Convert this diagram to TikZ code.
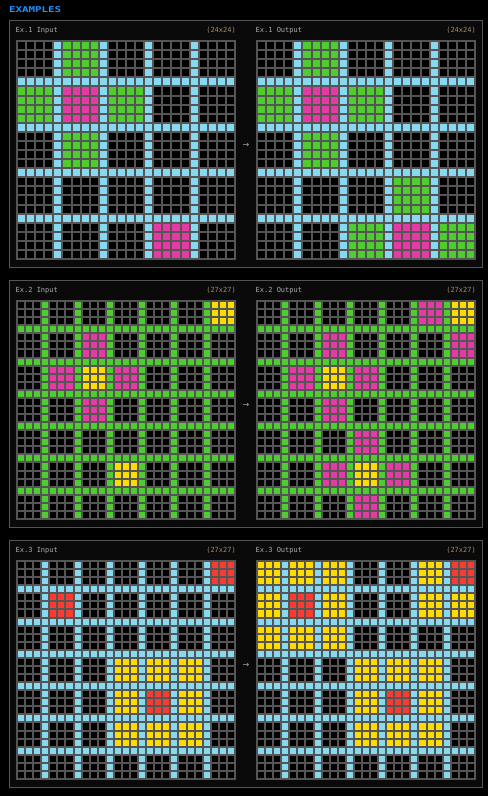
\documentclass[tikz,border=0pt]{standalone}
\usepackage{fontspec}
\usepackage{graphicx}
\newfontfamily\monofont{DejaVu Sans Mono}
\newfontfamily\arrowfont{DejaVu Sans}
\definecolor{arcred}{HTML}{F93C31}
\definecolor{arcgreen}{HTML}{4FCC30}
\definecolor{arcyellow}{HTML}{FFDC00}
\definecolor{arcmag}{HTML}{E53AA3}
\definecolor{arccyan}{HTML}{87D8F1}
\definecolor{gridgray}{HTML}{555555}
\definecolor{panelfill}{HTML}{0A0A0A}
\definecolor{panelline}{HTML}{555555}
\definecolor{titlecol}{HTML}{A8AEB5}
\definecolor{sizecol}{HTML}{A08C64}
\definecolor{headblue}{HTML}{1E93FF}
\definecolor{arrowcol}{HTML}{AAAAAA}

% one cell: x0, y0, pitch, column, row, colour
\newcommand\gcell[6]{%
  \fill[fill=#6] ({#1+2+(#4)*(#3)},{#2+2+(#5)*(#3)}) rectangle ({#1+(#4+1)*(#3)},{#2+(#5+1)*(#3)});%
}
% base grid: x0, y0, n, block size, separator colour
\newcommand\gbase[5]{%
  \fill[gridgray] (#1,#2) rectangle ++(220,220);
  \pgfmathsetmacro\gp{218/#3}
  \pgfmathtruncatemacro\gm{#3-1}
  \pgfmathtruncatemacro\gk{(#3-#4)/(#4+1)-1}
  \foreach \ci in {0,...,\gm}{\foreach \rj in {0,...,\gm}{\gcell{#1}{#2}{\gp}{\ci}{\rj}{black}}}
  \foreach \kk in {0,...,\gk}{\foreach \tt in {0,...,\gm}{%
    \pgfmathtruncatemacro\ss{\kk*(#4+1)+#4}%
    \gcell{#1}{#2}{\gp}{\ss}{\tt}{#5}%
    \gcell{#1}{#2}{\gp}{\tt}{\ss}{#5}}}
}
% coloured blocks: x0, y0, block size, list col/row/colour
\newcommand\gblocks[4]{%
  \pgfmathtruncatemacro\gbm{#3-1}
  \foreach \bc/\br/\bcol in {#4}{%
    \foreach \di in {0,...,\gbm}{\foreach \dj in {0,...,\gbm}{%
      \gcell{#1}{#2}{\gp}{\bc*(#3+1)+\di}{\br*(#3+1)+\dj}{\bcol}}}}
}

\tikzset{
  panel/.style={draw=panelline, fill=panelfill, line width=0.8pt},
  titletext/.style={font=\monofont\fontsize{7}{8}\selectfont, text=titlecol, inner sep=0pt, anchor=west},
  sizetext/.style={font=\monofont\fontsize{7}{8}\selectfont, text=sizecol, inner sep=0pt, anchor=east},
  arrowtext/.style={font=\arrowfont\fontsize{8}{9}\selectfont, text=arrowcol, inner sep=0pt},
  headtext/.style={font=\monofont\bfseries\fontsize{8}{9}\selectfont, text=headblue, inner sep=0pt, anchor=west}
}

\begin{document}
\begin{tikzpicture}[x=1pt,y=-1pt]
\useasboundingbox (0,0) rectangle (488,796);
\fill[black] (0,0) rectangle (488,796);

\node[headtext] (hdr) at (9,10) {\scalebox{1.35}[1]{EXAMPLES}};

% ---------- Example 1 ----------
\draw[panel] (9.5,20.5) rectangle (482.5,267.5);
\node[titletext] (t1i) at (15.5,30.5) {Ex.1 Input};
\node[sizetext] (s1i) at (236,30.5) {(24x24)};
\node[titletext] (t1o) at (255.5,30.5) {Ex.1 Output};
\node[sizetext] (s1o) at (476,30.5) {(24x24)};
\gbase{16}{40}{24}{4}{arccyan}
\gblocks{16}{40}{4}{1/0/arcgreen,0/1/arcgreen,1/1/arcmag,2/1/arcgreen,1/2/arcgreen,3/4/arcmag}
\gbase{256}{40}{24}{4}{arccyan}
\gblocks{256}{40}{4}{1/0/arcgreen,0/1/arcgreen,1/1/arcmag,2/1/arcgreen,1/2/arcgreen,3/3/arcgreen,2/4/arcgreen,3/4/arcmag,4/4/arcgreen}
\node[arrowtext] (a1) at (246,145) {→};

% ---------- Example 2 ----------
\draw[panel] (9.5,280) rectangle (482.5,527);
\node[titletext] (t2i) at (15.5,290.3) {Ex.2 Input};
\node[sizetext] (s2i) at (236,290.3) {(27x27)};
\node[titletext] (t2o) at (255.5,290.3) {Ex.2 Output};
\node[sizetext] (s2o) at (476,290.3) {(27x27)};
\gbase{16}{300}{27}{3}{arcgreen}
\gblocks{16}{300}{3}{6/0/arcyellow,2/1/arcmag,1/2/arcmag,2/2/arcyellow,3/2/arcmag,2/3/arcmag,3/5/arcyellow}
\gbase{256}{300}{27}{3}{arcgreen}
\gblocks{256}{300}{3}{5/0/arcmag,6/0/arcyellow,2/1/arcmag,6/1/arcmag,1/2/arcmag,2/2/arcyellow,3/2/arcmag,2/3/arcmag,3/4/arcmag,2/5/arcmag,3/5/arcyellow,4/5/arcmag,3/6/arcmag}
\node[arrowtext] (a2) at (246,405) {→};

% ---------- Example 3 ----------
\draw[panel] (9.5,540) rectangle (482.5,787);
\node[titletext] (t3i) at (15.5,550.3) {Ex.3 Input};
\node[sizetext] (s3i) at (236,550.3) {(27x27)};
\node[titletext] (t3o) at (255.5,550.3) {Ex.3 Output};
\node[sizetext] (s3o) at (476,550.3) {(27x27)};
\gbase{16}{560}{27}{3}{arccyan}
\gblocks{16}{560}{3}{6/0/arcred,1/1/arcred,3/3/arcyellow,4/3/arcyellow,5/3/arcyellow,3/4/arcyellow,4/4/arcred,5/4/arcyellow,3/5/arcyellow,4/5/arcyellow,5/5/arcyellow}
\gbase{256}{560}{27}{3}{arccyan}
\gblocks{256}{560}{3}{0/0/arcyellow,1/0/arcyellow,2/0/arcyellow,5/0/arcyellow,6/0/arcred,0/1/arcyellow,1/1/arcred,2/1/arcyellow,5/1/arcyellow,6/1/arcyellow,0/2/arcyellow,1/2/arcyellow,2/2/arcyellow,3/3/arcyellow,4/3/arcyellow,5/3/arcyellow,3/4/arcyellow,4/4/arcred,5/4/arcyellow,3/5/arcyellow,4/5/arcyellow,5/5/arcyellow}
\node[arrowtext] (a3) at (246,665) {→};
\end{tikzpicture}
\end{document}
